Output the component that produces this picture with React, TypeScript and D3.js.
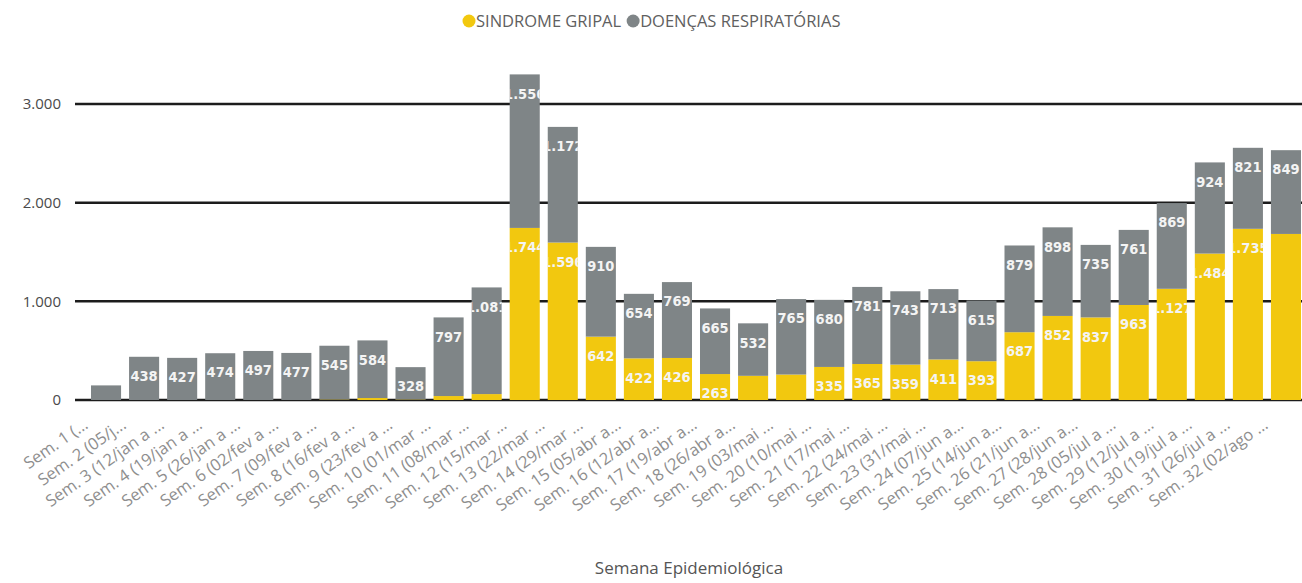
import React, { useEffect, useRef } from "react";
import * as d3 from "d3";

const semanas = [
  "Sem. 1 (...", "Sem. 2 (05/j...", "Sem. 3 (12/jan a ...", "Sem. 4 (19/jan a ...",
  "Sem. 5 (26/jan a ...", "Sem. 6 (02/fev a ...", "Sem. 7 (09/fev a ...", "Sem. 8 (16/fev a ...",
  "Sem. 9 (23/fev a ...", "Sem. 10 (01/mar ...", "Sem. 11 (08/mar ...", "Sem. 12 (15/mar ...",
  "Sem. 13 (22/mar ...", "Sem. 14 (29/mar ...", "Sem. 15 (05/abr a...", "Sem. 16 (12/abr a...",
  "Sem. 17 (19/abr a...", "Sem. 18 (26/abr a...", "Sem. 19 (03/mai ...", "Sem. 20 (10/mai ...",
  "Sem. 21 (17/mai ...", "Sem. 22 (24/mai ...", "Sem. 23 (31/mai ...", "Sem. 24 (07/jun a...",
  "Sem. 25 (14/jun a...", "Sem. 26 (21/jun a...", "Sem. 27 (28/jun a...", "Sem. 28 (05/jul a ...",
  "Sem. 29 (12/jul a ...", "Sem. 30 (19/jul a ...", "Sem. 31 (26/jul a ...", "Sem. 32 (02/ago ...",
];

// valores
const sindromeGripal = [
  0, 0, 0, 0, 0, 0, 5, 20, 5, 40, 60, 1744, 1596, 642, 422, 426,
  263, 245, 258, 335, 365, 359, 411, 393, 687, 852, 837, 963, 1127, 1484, 1735, 1683,
];
const doencasRespiratorias = [
  148, 438, 427, 474, 497, 477, 545, 584, 328, 797, 1081, 1556, 1172, 910, 654, 769,
  665, 532, 765, 680, 781, 743, 713, 615, 879, 898, 735, 761, 869, 924, 821, 849,
];

const yTicks = [0, 1000, 2000, 3000];

const series = [
  { key: "sg", nome: "SINDROME GRIPAL", cor: "#F2C80F", valores: sindromeGripal },
  { key: "dr", nome: "DOENÇAS RESPIRATÓRIAS", cor: "#7F8587", valores: doencasRespiratorias },
];

const W = 1302;
const H = 583;

const App = () => {
  const svgRef = useRef(null);

  useEffect(() => {
    const svg = d3.select(svgRef.current);
    svg.selectAll("*").remove();

    const fmt = d3.formatLocale({
      decimal: ",",
      thousands: ".",
      grouping: [3],
      currency: ["R$", ""],
    }).format(",d");

    const data = semanas.map((s, i) => ({
      semana: s,
      sg: sindromeGripal[i],
      dr: doencasRespiratorias[i],
    }));
    const stacked = d3.stack().keys(["sg", "dr"])(data);

    const x = d3
      .scaleBand()
      .domain(semanas)
      .range([87, 1305])
      .paddingInner(0.21)
      .paddingOuter(0.105);

    const y = d3.scaleLinear().domain([0, 3000]).range([400, 104]);

    const fonte = "'Open Sans', 'Segoe UI', sans-serif";

    // linhas de grade
    svg
      .append("g")
      .selectAll("line")
      .data(yTicks)
      .join("line")
      .attr("x1", 75)
      .attr("x2", W)
      .attr("y1", (d) => y(d))
      .attr("y2", (d) => y(d))
      .attr("stroke", "#1c1c1c")
      .attr("stroke-width", 2.5);

    svg
      .append("g")
      .selectAll("text")
      .data(yTicks)
      .join("text")
      .attr("x", 61)
      .attr("y", (d) => y(d))
      .attr("dy", "0.35em")
      .attr("text-anchor", "end")
      .attr("font-family", fonte)
      .attr("font-size", 15)
      .attr("fill", "#4a4a4a")
      .text((d) => fmt(d));

    // barras empilhadas
    const cor = {};
    series.forEach((s) => (cor[s.key] = s.cor));

    svg
      .append("g")
      .selectAll("g")
      .data(stacked)
      .join("g")
      .attr("fill", (d) => cor[d.key])
      .selectAll("rect")
      .data((d) => d)
      .join("rect")
      .attr("x", (d) => x(d.data.semana))
      .attr("y", (d) => y(d[1]))
      .attr("height", (d) => y(d[0]) - y(d[1]))
      .attr("width", x.bandwidth());

    // recorte dos rótulos por barra
    const defs = svg.append("defs");
    semanas.forEach((s, i) => {
      defs
        .append("clipPath")
        .attr("id", "clip-" + i)
        .append("rect")
        .attr("x", x(s))
        .attr("y", 0)
        .attr("width", x.bandwidth())
        .attr("height", y(0));
    });

    const rotulos = svg.append("g");
    stacked.forEach((layer) => {
      layer.forEach((d, i) => {
        const v = d[1] - d[0];
        const txt = fmt(v);
        const cx = x(d.data.semana) + x.bandwidth() / 2;
        if (v < 260) return;
        if (cx + (txt.length * 8) / 2 > W) return;
        rotulos
          .append("text")
          .attr("clip-path", `url(#clip-${i})`)
          .attr("x", cx)
          .attr("y", y(d[1]) + 19)
          .attr("dy", "0.36em")
          .attr("text-anchor", "middle")
          .attr("font-family", "'DejaVu Sans Condensed', 'DejaVu Sans', sans-serif")
          .attr("font-weight", "bold")
          .attr("font-size", 14.5)
          .attr("fill", "#F4F4F4")
          .text(txt);
      });
    });

    // rótulos do eixo x
    svg
      .append("g")
      .selectAll("text")
      .data(semanas)
      .join("text")
      .attr(
        "transform",
        (d) => `translate(${x(d) + x.bandwidth() / 2 - 24},${417}) rotate(-35)`
      )
      .attr("dy", "0.75em")
      .attr("text-anchor", "end")
      .attr("font-family", fonte)
      .attr("font-size", 16.5)
      .attr("fill", "#8e8e8e")
      .text((d) => d);

    svg
      .append("text")
      .attr("x", 689)
      .attr("y", 568)
      .attr("dy", "0.35em")
      .attr("text-anchor", "middle")
      .attr("font-family", fonte)
      .attr("font-size", 17)
      .attr("fill", "#555")
      .text("Semana Epidemiológica");

    // legenda
    const leg = svg.append("g").attr("transform", "translate(469,21)");
    let off = 0;
    series.forEach((s) => {
      const g = leg.append("g").attr("transform", `translate(${off},0)`);
      g.append("circle").attr("r", 6.5).attr("fill", s.cor);
      const t = g
        .append("text")
        .attr("x", 7)
        .attr("dy", "0.35em")
        .attr("font-family", fonte)
        .attr("font-size", 16.5)
        .attr("fill", "#606060")
        .text(s.nome);
      off += 7 + t.node().getComputedTextLength() + 12;
    });
  }, []);

  return (
    <svg
      ref={svgRef}
      width={W}
      height={H}
      style={{ position: "absolute", left: 0, top: 0, background: "#fff" }}
    ></svg>
  );
};

export default App;
